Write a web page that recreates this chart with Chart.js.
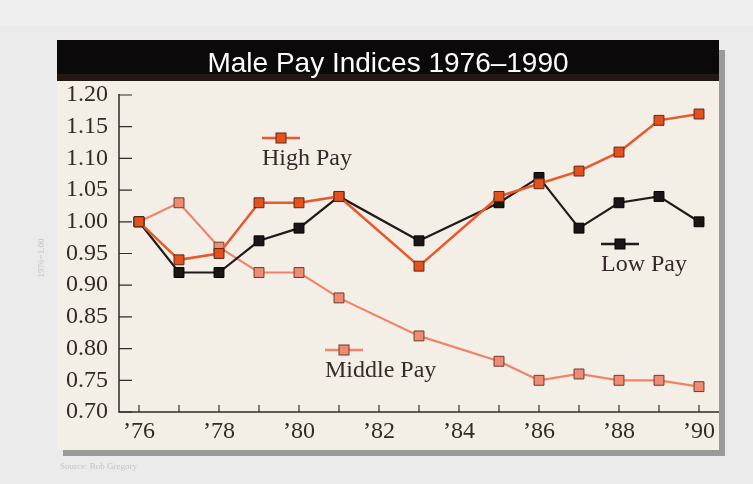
<!DOCTYPE html>
<html>
<head>
<meta charset="utf-8">
<script src="https://cdn.jsdelivr.net/npm/chart.js@4"></script>
<style>
  html, body { margin: 0; padding: 0; background: #ebebeb; }
  canvas { display: block; }
</style>
</head>
<body>
<canvas id="chart" width="753" height="484"></canvas>
<script>
// years with a marker (no points for '82 and '84)
const years = [1976, 1977, 1978, 1979, 1980, 1981, 1983, 1985, 1986, 1987, 1988, 1989, 1990]
const highPay   = [1.00, 0.94, 0.95, 1.03, 1.03, 1.04, 0.93, 1.04, 1.06, 1.08, 1.11, 1.16, 1.17]
const lowPay    = [1.00, 0.92, 0.92, 0.97, 0.99, 1.04, 0.97, 1.03, 1.07, 0.99, 1.03, 1.04, 1.00]
const middlePay = [1.00, 1.03, 0.96, 0.92, 0.92, 0.88, 0.82, 0.78, 0.75, 0.76, 0.75, 0.75, 0.74]
const yTicks = [0.70, 0.75, 0.80, 0.85, 0.90, 0.95, 1.00, 1.05, 1.10, 1.15, 1.20]
const xTicks = [1976, 1977, 1978, 1979, 1980, 1981, 1982, 1983, 1984, 1985, 1986, 1987, 1988, 1989, 1990]

const SERIF = "'Liberation Serif', 'DejaVu Serif', serif"
const INK = '#35292a'

function toPoints(vals){ return years.map((y, i) => ({ x: y, y: vals[i] })) }

// frame : fond gris, panneau crème, ombre, bandeau titre
const framePlugin = {
    id: 'frame',
    beforeDraw(chart){
        const ctx = chart.ctx
        ctx.save()
        ctx.fillStyle = '#ebebeb'
        ctx.fillRect(0, 0, 753, 484)
        ctx.fillStyle = '#efefef'
        ctx.fillRect(0, 0, 753, 26)
        // ombre
        ctx.fillStyle = '#9a9a9a'
        ctx.fillRect(719, 50, 6, 406)
        ctx.fillRect(63, 450, 662, 6)
        // panneau
        ctx.fillStyle = '#f3eee6'
        ctx.fillRect(57, 81, 662, 369)
        // bandeau titre
        ctx.fillStyle = '#0b0909'
        ctx.fillRect(57, 40, 662, 41)
        ctx.fillStyle = '#241814'
        ctx.fillRect(57, 74, 662, 7)
        ctx.fillStyle = '#ffffff'
        ctx.font = "28px 'Liberation Sans', Arial, sans-serif"
        ctx.textAlign = 'center'
        ctx.textBaseline = 'alphabetic'
        ctx.fillText('Male Pay Indices 1976\u20131990', 388, 72)
        // petits textes pâles
        ctx.fillStyle = '#c4c4c4'
        ctx.font = "9px 'Liberation Serif', serif"
        ctx.textAlign = 'left'
        ctx.fillText('Source: Bob Gregory', 60, 469)
        ctx.translate(44, 258)
        ctx.rotate(-Math.PI / 2)
        ctx.textAlign = 'center'
        ctx.fillText('1976=1.00', 0, 0)
        ctx.restore()
    }
}

// axes avec graduations vers l'intérieur
const axesPlugin = {
    id: 'axes',
    beforeDatasetsDraw(chart){
        const ctx = chart.ctx
        const xs = chart.scales.x, ys = chart.scales.y
        const a = chart.chartArea
        ctx.save()
        ctx.strokeStyle = INK
        ctx.lineWidth = 1.5
        ctx.beginPath()
        ctx.moveTo(a.left, a.top - 1)
        ctx.lineTo(a.left, a.bottom)
        ctx.lineTo(a.right, a.bottom)
        ctx.stroke()
        ctx.lineWidth = 1.2
        ctx.beginPath()
        yTicks.forEach(v => {
            const py = ys.getPixelForValue(v)
            ctx.moveTo(a.left, py)
            ctx.lineTo(a.left + 13, py)
        })
        xTicks.forEach(v => {
            const px = xs.getPixelForValue(v)
            ctx.moveTo(px, a.bottom)
            ctx.lineTo(px, a.bottom - 7)
        })
        ctx.stroke()
        ctx.restore()
    },
    afterDatasetsDraw(chart){
        const ctx = chart.ctx
        const items = [
            { x: 262, y: 138, label: 'High Pay', ds: chart.data.datasets[0] },
            { x: 601, y: 244, label: 'Low Pay', ds: chart.data.datasets[1] },
            { x: 325, y: 350, label: 'Middle Pay', ds: chart.data.datasets[2] }
        ]
        ctx.save()
        items.forEach(it => {
            ctx.strokeStyle = it.ds.borderColor
            ctx.lineWidth = 2.5
            ctx.beginPath()
            ctx.moveTo(it.x, it.y)
            ctx.lineTo(it.x + 38, it.y)
            ctx.stroke()
            ctx.fillStyle = it.ds.pointBackgroundColor
            ctx.strokeStyle = it.ds.pointBorderColor
            ctx.lineWidth = 1
            ctx.fillRect(it.x + 14, it.y - 5, 10, 10)
            ctx.strokeRect(it.x + 14, it.y - 5, 10, 10)
            ctx.fillStyle = INK
            ctx.font = '24px ' + SERIF
            ctx.textAlign = 'left'
            ctx.textBaseline = 'alphabetic'
            ctx.fillText(it.label, it.x, it.y + 27)
        })
        ctx.restore()
    }
}

const data = {
    datasets: [{
        label: 'High Pay',
        data: toPoints(highPay),
        borderColor: '#e9592c',
        borderWidth: 2.5,
        pointStyle: 'rect',
        pointRadius: 7,
        pointBackgroundColor: '#e4511c',
        pointBorderColor: '#5a2a1a',
        pointBorderWidth: 1
    },{
        label: 'Low Pay',
        data: toPoints(lowPay),
        borderColor: '#221a1a',
        borderWidth: 2.2,
        pointStyle: 'rect',
        pointRadius: 7,
        pointBackgroundColor: '#1c1515',
        pointBorderColor: '#000000',
        pointBorderWidth: 1
    },{
        label: 'Middle Pay',
        data: toPoints(middlePay),
        borderColor: '#f08469',
        borderWidth: 2.2,
        pointStyle: 'rect',
        pointRadius: 7,
        pointBackgroundColor: '#ee8b72',
        pointBorderColor: '#6e3b30',
        pointBorderWidth: 1
    }]
}

const config = {
    type: 'line',
    data: data,
    options: {
        responsive: false,
        animation: false,
        layout: { padding: { left: 57, right: 34, top: 95, bottom: 34 } },
        plugins: { legend: { display: false }, tooltip: { enabled: false } },
        scales: {
            x: {
                type: 'linear', min: 1975.5, max: 1990.5,
                grid: { display: false, drawTicks: false },
                border: { display: false },
                afterBuildTicks: s => { s.ticks = xTicks.map(v => ({ value: v })) },
                afterFit: s => { s.height = 38 },
                ticks: {
                    autoSkip: false, maxRotation: 0, padding: 5, color: INK,
                    font: { family: SERIF, size: 24 },
                    callback: v => (v % 2 === 0 ? '\u2019' + String(v).slice(2) : '')
                }
            },
            y: {
                min: 0.70, max: 1.20,
                grid: { display: false, drawTicks: false },
                border: { display: false },
                afterBuildTicks: s => { s.ticks = yTicks.map(v => ({ value: v })) },
                afterFit: s => { s.width = 62 },
                ticks: {
                    autoSkip: false, padding: 11, color: INK,
                    font: { family: SERIF, size: 24 },
                    callback: v => v.toFixed(2)
                }
            }
        }
    },
    plugins: [framePlugin, axesPlugin]
}

const myChart = new Chart(document.getElementById('chart'), config)
</script>
</body>
</html>
